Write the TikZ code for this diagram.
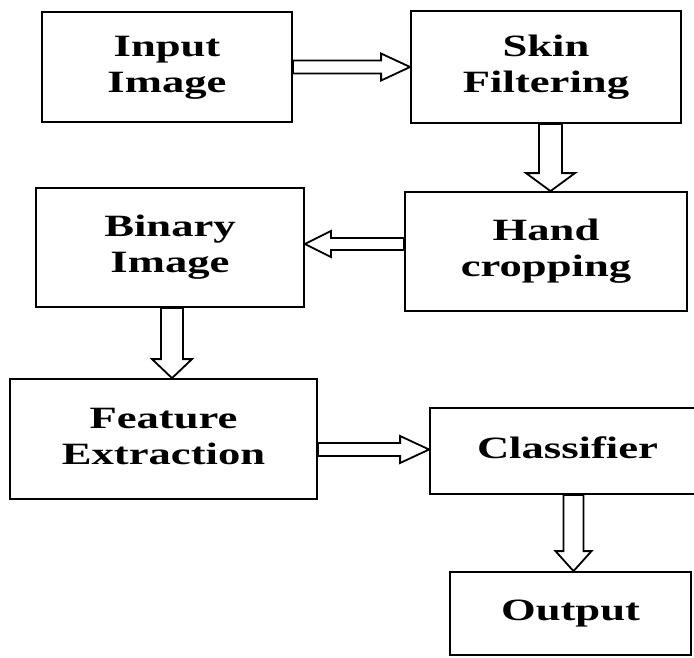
\documentclass[tikz,border=0pt]{standalone}
\usepackage{fontspec}
\usepackage{graphicx}
\setmainfont{Liberation Serif}
\usetikzlibrary{calc}
\newcommand\stx[1]{\scalebox{1.44}[1]{\begin{tabular}{@{}c@{}}#1\end{tabular}}}
\newcommand\blkR[3]{% from, to, y offset
  \draw[blk] let \p1=(#1.east), \p2=(#2.west) in
    (\x1,\y1+#3+6.5pt) -- (\x2-29pt,\y1+#3+6.5pt) -- (\x2-29pt,\y1+#3+13.5pt) -- (\x2,\y1+#3)
    -- (\x2-29pt,\y1+#3-13.5pt) -- (\x2-29pt,\y1+#3-6.5pt) -- (\x1,\y1+#3-6.5pt) -- cycle;}
\newcommand\blkL[3]{%
  \draw[blk] let \p1=(#1.west), \p2=(#2.east) in
    (\x1,\y1+#3+6pt) -- (\x2+26pt,\y1+#3+6pt) -- (\x2+26pt,\y1+#3+13pt) -- (\x2,\y1+#3)
    -- (\x2+26pt,\y1+#3-13pt) -- (\x2+26pt,\y1+#3-6pt) -- (\x1,\y1+#3-6pt) -- cycle;}
\newcommand\blkD[6]{% from, to, x offset, shaft half, head half, head length
  \draw[blk] let \p1=(#1.south), \p2=(#2.north) in
    (\x1+#3-#4,\y1) -- (\x1+#3-#4,\y2+#6) -- (\x1+#3-#5,\y2+#6) -- (\x1+#3,\y2)
    -- (\x1+#3+#5,\y2+#6) -- (\x1+#3+#4,\y2+#6) -- (\x1+#3+#4,\y1) -- cycle;}
\begin{document}
\begin{tikzpicture}[x=1pt,y=-1pt,
  box/.style={draw=black, line width=1.8pt, inner sep=0pt, align=center,
    font=\fontsize{31}{36}\selectfont\bfseries},
  blk/.style={draw=black, line width=1.8pt, fill=white, line join=miter}]
\useasboundingbox (0,0) rectangle (694,657);
\node[box, minimum width=250pt, minimum height=110pt] (inp) at (167,67) {\stx{Input\\Image}};
\node[box, minimum width=270pt, minimum height=112pt] (skin) at (546,67) {\stx{Skin\\Filtering}};
\node[box, minimum width=282pt, minimum height=119pt] (hand) at (546,251.5) {\raisebox{6pt}{\stx{Hand\\cropping}}};
\node[box, minimum width=268pt, minimum height=119pt] (bin) at (170,247.5) {\stx{Binary\\Image}};
\node[box, minimum width=307pt, minimum height=120pt] (feat) at (163.5,439) {\raisebox{6pt}{\stx{Feature\\Extraction}}};
\node[box, minimum width=275pt, minimum height=86pt] (cls) at (567.5,451) {\raisebox{3.2pt}{\stx{Classifier}}};
\node[box, minimum width=241pt, minimum height=83pt] (out) at (570.5,613.5) {\raisebox{6pt}{\stx{Output}}};
\blkR{inp}{skin}{0pt}
\blkD{skin}{hand}{4.5pt}{11.5pt}{24.5pt}{18pt}
\blkL{hand}{bin}{7.5pt}
\blkD{bin}{feat}{2pt}{11pt}{20pt}{19pt}
\blkR{feat}{cls}{-10.5pt}
\blkD{cls}{out}{6pt}{10pt}{18pt}{20pt}
\end{tikzpicture}
\end{document}
